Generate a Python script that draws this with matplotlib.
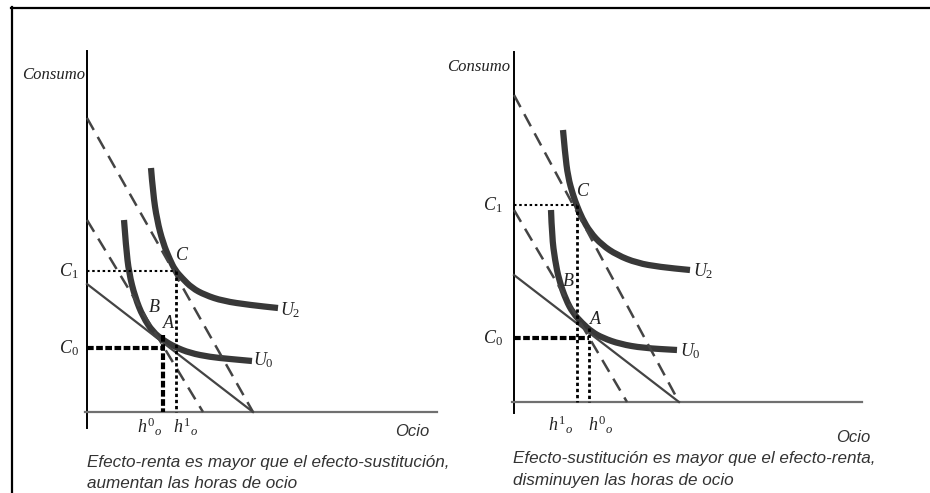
import matplotlib
matplotlib.use("Agg")
import matplotlib.pyplot as plt
from matplotlib.lines import Line2D
from matplotlib.path import Path
from matplotlib.patches import PathPatch

W, H = 930, 493

# --- left panel (units ~ pixels, origin at the axes corner) ---
left_u2_x = [64, 66, 70, 76, 83, 88, 95, 105, 118, 136, 163, 191]
left_u2_y = [244, 219, 192, 169, 152, 142, 134, 124, 117, 111, 107, 104]
left_u0_x = [37, 39, 42, 48, 56, 66, 76, 88, 103, 123, 143, 165]
left_u0_y = [192, 165, 139, 115, 95, 80, 72, 65, 59, 55, 53, 51]
left_budget_x = [0, 166]
left_budget_y = [128, 0]
left_high_x = [0, 166]
left_high_y = [294, 0]
left_comp_x = [0, 116]
left_comp_y = [192, 0]
left_c1, left_c0 = 141, 64
left_h1, left_h0 = 89, 76

# --- right panel ---
right_u2_x = [49, 51, 54, 59, 63, 68, 76, 88, 103, 123, 146, 176]
right_u2_y = [272, 249, 225, 207, 196, 184, 170, 157, 147, 139, 135, 132]
right_u0_x = [37, 38, 41, 45, 52, 59, 68, 78, 89, 106, 129, 163]
right_u0_y = [192, 165, 142, 122, 102, 89, 79, 70, 64, 58, 54, 52]
right_budget_x = [0, 165]
right_budget_y = [127, 0]
right_high_x = [0, 165]
right_high_y = [307, 0]
right_comp_x = [0, 113]
right_comp_y = [192, 0]
right_c1, right_c0 = 197, 64
right_h1, right_h0 = 63, 75

CURVE = '#383838'
LINE = '#444444'
TXT = '#333333'
DARK = '#222222'

plt.rcParams['mathtext.fontset'] = 'custom'
plt.rcParams['mathtext.rm'] = 'Liberation Serif'
plt.rcParams['mathtext.it'] = 'Liberation Serif:italic'

fig = plt.figure(figsize=(W / 100, H / 100), dpi=100)
fig.patch.set_facecolor('white')

# outer frame (top and left edges only)
fig.add_artist(Line2D([11 / W, 1], [1 - 7.5 / H, 1 - 7.5 / H], color='black', lw=1.6))
fig.add_artist(Line2D([11.5 / W, 11.5 / W], [0, 1 - 7 / H], color='black', lw=1.6))


def make_axes(ox, oy):
    ax = fig.add_axes([0, 0, 1, 1])
    ax.set_xlim(-ox, W - ox)
    ax.set_ylim(-(H - oy), oy)
    ax.axis('off')
    return ax


def smooth_curve(ax, xs, ys):
    """Кривая безразличия: квадратичные сегменты Безье через середины"""
    pts = list(zip(xs, ys))
    verts = [pts[0]]
    codes = [Path.MOVETO]
    for i in range(1, len(pts) - 1):
        mid = ((pts[i][0] + pts[i + 1][0]) / 2, (pts[i][1] + pts[i + 1][1]) / 2)
        verts += [pts[i], mid]
        codes += [Path.CURVE3, Path.CURVE3]
    verts.append(pts[-1])
    codes.append(Path.LINETO)
    ax.add_patch(PathPatch(Path(verts, codes), fill=False, ec=CURVE, lw=4.5,
                           capstyle='butt', joinstyle='round'))


def serif(ax, x, y, s, size=12, ha='center'):
    ax.text(x, y, s, ha=ha, va='center', fontsize=size,
            family='Liberation Serif', style='italic', color=DARK)


def math(ax, x, y, s, ha='center'):
    ax.text(x, y, s, ha=ha, va='center', fontsize=13, color=DARK)


def panel(ax, ytop, ybot, xend, u2x, u2y, u0x, u0y, bx, by, hx, hy, cx, cy,
          c1, c0, h1, h0, thick_h0):
    # axes
    ax.plot([0, 0], [ybot, ytop], color='black', lw=1.4)
    ax.plot([-2, xend], [0, 0], color='#707070', lw=1.6)
    # budget lines
    ax.plot(bx, by, color=LINE, lw=1.6)
    ax.plot(hx, hy, color=LINE, lw=1.8, dashes=(5.5, 3.2))
    ax.plot(cx, cy, color=LINE, lw=1.8, dashes=(5.5, 3.2))
    # indifference curves
    smooth_curve(ax, u2x, u2y)
    smooth_curve(ax, u0x, u0y)
    # guide lines
    ax.plot([0, h1], [c1, c1], color='black', lw=1.5, dashes=(1.2, 1.3))
    ax.plot([h1, h1], [c1, 0], color='black', lw=2.0, dashes=(1.2, 1.0))
    ax.plot([0, h0], [c0, c0], color='black', lw=3.0, dashes=(1.6, 0.6))
    if thick_h0:
        ax.plot([h0, h0], [c0 + 13, 0], color='black', lw=3.0, dashes=(1.6, 0.6))
    else:
        ax.plot([h0, h0], [c0 + 10, 0], color='black', lw=2.0, dashes=(1.2, 1.0))


def caption(ax, x, y, lines, ocio_xy):
    ax.text(ocio_xy[0], ocio_xy[1], 'Ocio', ha='center', va='center', fontsize=12,
            family='Liberation Sans', style='italic', color=TXT)
    for k, line in enumerate(lines):
        ax.text(x, y - 21 * k, line, ha='left', va='center', fontsize=12.3,
                family='Liberation Sans', style='italic', color=TXT)


# left
ax1 = make_axes(87, 412)
panel(ax1, 361, -16, 350, left_u2_x, left_u2_y, left_u0_x, left_u0_y,
      left_budget_x, left_budget_y, left_high_x, left_high_y,
      left_comp_x, left_comp_y, left_c1, left_c0, left_h1, left_h0, True)
serif(ax1, -2, 337, 'Consumo', ha='right')
math(ax1, -8, left_c1, r'$C_{\mathit{1}}$', ha='right')
math(ax1, -8, left_c0, r'$C_{\mathit{0}}$', ha='right')
serif(ax1, 95, 156, 'C', 13)
serif(ax1, 67, 104, 'B', 13)
serif(ax1, 81, 89, 'A', 13)
math(ax1, 193, 102, r'$U_{\mathit{2}}$', ha='left')
math(ax1, 166, 52, r'$U_{\mathit{0}}$', ha='left')
math(ax1, 63, -15, r'$h^{\mathit{0}}{}_{o}$')
math(ax1, 99, -15, r'$h^{\mathit{1}}{}_{o}$')
caption(ax1, 0, -50, ['Efecto-renta es mayor que el efecto-sustitución,',
                      'aumentan las horas de ocio'], (325, -20))

# right
ax2 = make_axes(514, 402)
panel(ax2, 350, -11, 348, right_u2_x, right_u2_y, right_u0_x, right_u0_y,
      right_budget_x, right_budget_y, right_high_x, right_high_y,
      right_comp_x, right_comp_y, right_c1, right_c0, right_h1, right_h0, False)
serif(ax2, -4, 335, 'Consumo', ha='right')
math(ax2, -11, right_c1, r'$C_{\mathit{1}}$', ha='right')
math(ax2, -11, right_c0, r'$C_{\mathit{0}}$', ha='right')
serif(ax2, 69, 210, 'C', 13)
serif(ax2, 54, 120, 'B', 13)
serif(ax2, 81, 82, 'A', 13)
math(ax2, 179, 131, r'$U_{\mathit{2}}$', ha='left')
math(ax2, 166, 51, r'$U_{\mathit{0}}$', ha='left')
math(ax2, 47, -23, r'$h^{\mathit{1}}{}_{o}$')
math(ax2, 87, -23, r'$h^{\mathit{0}}{}_{o}$')
caption(ax2, -1, -57, ['Efecto-sustitución es mayor que el efecto-renta,',
                       'disminuyen las horas de ocio'], (339, -36))

fig.savefig('out.png', dpi=100)
